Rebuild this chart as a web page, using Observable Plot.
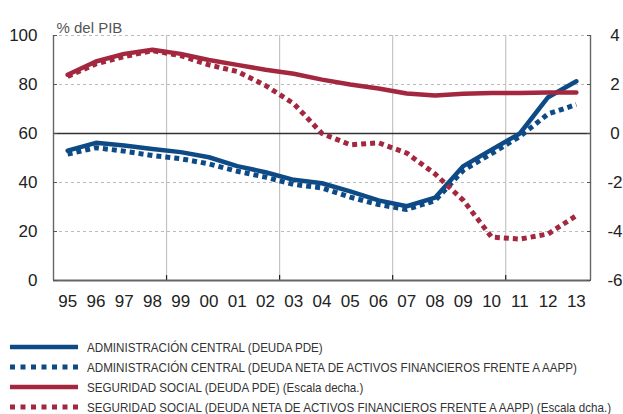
<!DOCTYPE html>
<html>
<head>
<meta charset="utf-8">
<script src="https://cdn.jsdelivr.net/npm/d3@7"></script>
<script src="https://cdn.jsdelivr.net/npm/@observablehq/plot@0.6"></script>
<style>
  html, body { margin: 0; padding: 0; background: #fff; }
  #wrap { width: 623px; height: 414px; position: relative; overflow: hidden; }
  .legend { position: absolute; left: 0; top: 337px; font-family: "Liberation Sans", Arial, sans-serif; font-size: 13.5px; color: #333; }
  .row { display: flex; align-items: center; height: 20px; }
  .row svg { margin-left: 10px; margin-right: 9px; flex: none; }
  .row span { white-space: nowrap; display: inline-block; transform-origin: 0 50%; }
</style>
</head>
<body>
<div id="wrap"></div>
<script>
// ---- data ----
const years = ["95","96","97","98","99","00","01","02","03","04","05","06","07","08","09","10","11","12","13"];
// left scale (% del PIB)
const acPDE  = [53.0,56.2,55.1,53.7,52.4,50.3,46.7,44.2,41.1,39.7,36.4,32.7,30.3,33.8,46.7,53.4,60.0,74.8,81.3];
const acNeta = [51.6,54.2,52.8,51.0,49.7,47.6,44.6,42.2,39.2,37.8,34.0,31.0,29.0,32.6,45.0,51.8,58.8,68.0,71.8];
// right scale (Escala dcha.)
const ssPDE  = [2.40,2.94,3.25,3.42,3.25,3.00,2.80,2.60,2.44,2.20,2.00,1.84,1.63,1.55,1.62,1.65,1.65,1.67,1.67];
const ssNeta = [2.33,2.84,3.14,3.38,3.18,2.80,2.53,1.96,1.22,0.00,-0.46,-0.38,-0.80,-1.65,-2.73,-4.23,-4.31,-4.10,-3.35];
const leftTicks = [0,20,40,60,80,100];
const rightTicks = [-6,-4,-2,0,2,4];
const gridBreaks = [3.5,7.5,11.5,15.5]; // band boundaries 98|99, 02|03, 06|07, 10|11
const legendLabels = [
  "ADMINISTRACIÓN CENTRAL (DEUDA PDE)",
  "ADMINISTRACIÓN CENTRAL (DEUDA NETA DE ACTIVOS FINANCIEROS FRENTE A AAPP)",
  "SEGURIDAD SOCIAL (DEUDA PDE) (Escala decha.)",
  "SEGURIDAD SOCIAL (DEUDA NETA DE ACTIVOS FINANCIEROS FRENTE A AAPP) (Escala dcha.)"
];

const BLUE = "#0e4b86";
const RED = "#a3283f";
// right axis (-6..4) <-> left axis (0..100)
const toLeft = v => v * 10 + 60;
const fromLeft = v => (v - 60) / 10;

const rows = years.map((y, i) => ({i, year: y, acPDE: acPDE[i], acNeta: acNeta[i], ssPDE: toLeft(ssPDE[i]), ssNeta: toLeft(ssNeta[i])}));
const xDomain = [-0.5, years.length - 0.5];

const FONT = "'Liberation Sans', Arial, Helvetica, sans-serif";

const chart = Plot.plot({
  width: 623,
  height: 320,
  marginLeft: 53,
  marginRight: 33,
  marginTop: 35,
  marginBottom: 40,
  style: {fontFamily: FONT, fontSize: "17px", color: "#222", background: "#fff"},
  x: {type: "linear", domain: xDomain},
  y: {domain: [0, 100]},
  marks: [
    Plot.ruleY([20, 40, 80, 100], {stroke: "#bbb", strokeDasharray: "3,3", strokeWidth: 1}),
    Plot.ruleX(gridBreaks, {stroke: "#c4c4c4", strokeWidth: 1.2}),
    Plot.ruleX(gridBreaks, {y1: 0, y2: 2, stroke: "#222", strokeWidth: 1.2}),
    Plot.ruleY([toLeft(0)], {stroke: "#333", strokeWidth: 1.6}),
    Plot.ruleX(xDomain, {stroke: "#666", strokeWidth: 1.4}),
    Plot.ruleY([0], {stroke: "#666", strokeWidth: 1.8}),
    Plot.axisX({ticks: d3.range(years.length), tickFormat: i => years[i], tickSize: 0, tickPadding: 14, fontSize: 17, label: null}),
    Plot.axisY({anchor: "left", ticks: leftTicks, tickSize: -4, tickPadding: 20, label: null, fontSize: 17, stroke: "#555"}),
    Plot.axisY({anchor: "right", ticks: rightTicks.map(toLeft), tickFormat: v => String(fromLeft(v)), tickSize: -4, tickPadding: 28.5, textAnchor: "middle", label: null, fontSize: 17, stroke: "#555"}),
    Plot.line(rows, {x: "i", y: "acPDE", stroke: BLUE, strokeWidth: 4.5}),
    Plot.line(rows, {x: "i", y: "acNeta", stroke: BLUE, strokeWidth: 5, strokeDasharray: "5,4", strokeLinecap: "butt"}),
    Plot.line(rows, {x: "i", y: "ssPDE", stroke: RED, strokeWidth: 4.5}),
    Plot.line(rows, {x: "i", y: "ssNeta", stroke: RED, strokeWidth: 5, strokeDasharray: "5,4", strokeLinecap: "butt"}),
    Plot.text(["% del PIB"], {frameAnchor: "top-left", dx: 3, dy: -13, textAnchor: "start", fontSize: 15, fill: "#555"})
  ]
});

const wrap = document.getElementById("wrap");
wrap.appendChild(chart);

const legend = document.createElement("div");
legend.className = "legend";
const styles = [
  {color: BLUE, dash: null},
  {color: BLUE, dash: "5,5.5"},
  {color: RED, dash: null},
  {color: RED, dash: "5,5.5"}
];
const spans = [];
legendLabels.forEach((lab, k) => {
  const row = document.createElement("div");
  row.className = "row";
  const s = styles[k];
  row.innerHTML = `<svg width="68" height="8"><line x1="0" x2="68" y1="4" y2="4" stroke="${s.color}" stroke-width="${s.dash ? 5 : 4.5}" ${s.dash ? `stroke-dasharray="${s.dash}"` : ""}/></svg><span>${lab}</span>`;
  legend.appendChild(row);
  spans.push(row.querySelector("span"));
});
wrap.appendChild(legend);
// condense the legend text like the reference's narrow typeface
const longest = spans[3].getBoundingClientRect().width;
const k = Math.min(1, 524 / longest);
spans.forEach(sp => sp.style.transform = `scaleX(${k})`);
</script>
</body>
</html>
